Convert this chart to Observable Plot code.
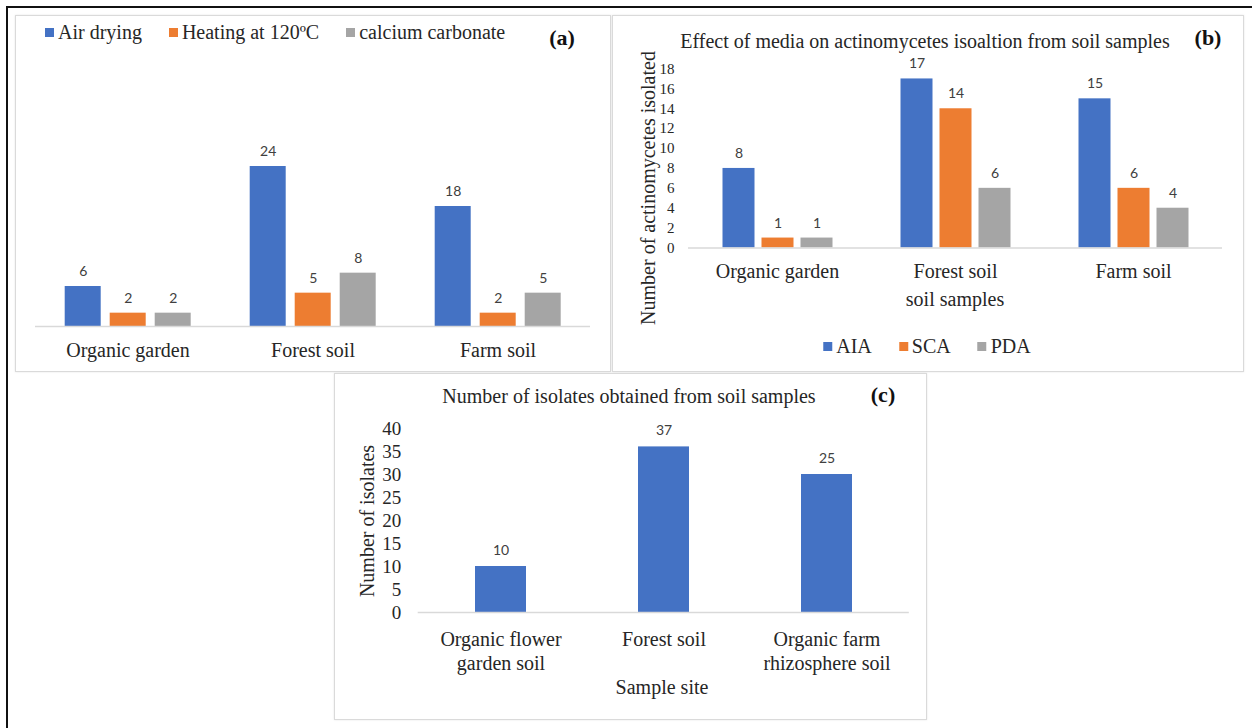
<!DOCTYPE html>
<html><head><meta charset="utf-8">
<script src="https://cdn.jsdelivr.net/npm/d3@7"></script>
<script src="https://cdn.jsdelivr.net/npm/@observablehq/plot@0.6"></script>
<style>
html,body{margin:0;padding:0;background:#fff;}
#page{position:relative;width:1252px;height:728px;overflow:hidden;font-family:"Liberation Serif","Times New Roman",serif;color:#262626;}
.line{position:absolute;background:#111;}
.box{position:absolute;box-sizing:border-box;border:1px solid #dadada;box-shadow:0 0 2px rgba(0,0,0,0.10);}
.t{position:absolute;transform:translate(-50%,-50%);white-space:nowrap;line-height:1;font-size:20px;}
.t.rot{transform:translate(-50%,-50%) rotate(-90deg);}
.t.b{font-weight:bold;font-size:22px;color:#111;}
.legend{position:absolute;display:flex;align-items:center;gap:27px;font-size:20px;line-height:1;white-space:nowrap;}
.legend .item{display:flex;align-items:center;}
.legend .sw{display:inline-block;width:9px;height:9px;margin-right:4px;}
.plot{position:absolute;}
#pb svg [aria-label^="y-axis"] text{font-size:15px;}
#pc svg [aria-label^="y-axis"] text{font-size:19px;}
</style></head>
<body><div id="page"></div>
<script>
// ---------- data ----------
const colors = ["#4472C4", "#ED7D31", "#A5A5A5"];

// Panel (a)
const catsA = ["Organic garden", "Forest soil", "Farm soil"];
const seriesA = ["Air drying", "Heating at 120ºC", "calcium carbonate"];
const airDrying = [6, 24, 18];
const heating120 = [2, 5, 2];
const calciumCarbonate = [2, 8, 5];

// Panel (b)
const catsB = ["Organic garden", "Forest soil", "Farm soil"];
const seriesB = ["AIA", "SCA", "PDA"];
const aia = [8, 17, 15];
const sca = [1, 14, 6];
const pda = [1, 6, 4];
const ticksB = [0, 2, 4, 6, 8, 10, 12, 14, 16, 18];

// Panel (c)
const catsC = ["Organic flower garden soil", "Forest soil", "Organic farm rhizosphere soil"];
const catLabelsC = ["Organic flower\ngarden soil", "Forest soil", "Organic farm\nrhizosphere soil"];
const isolateBars = [10, 36, 30];
const isolateLabels = ["10", "37", "25"];
const ticksC = [0, 5, 10, 15, 20, 25, 30, 35, 40];

// ---------- helpers ----------
const page = document.getElementById("page");
const serif = "'Liberation Serif', 'Times New Roman', serif";
const sans = "Lato, 'Open Sans', sans-serif";

function el(tag, cls, css, text) {
  const e = document.createElement(tag);
  if (cls) e.className = cls;
  Object.assign(e.style, css || {});
  if (text != null) e.textContent = text;
  page.appendChild(e);
  return e;
}
function txt(text, x, y, cls = "", css = {}) {
  return el("div", "t " + cls, Object.assign({left: x + "px", top: y + "px"}, css), text);
}
function legend(series, left, top, center) {
  const d = el("div", "legend", {left: left + "px", top: top + "px", height: "20px",
    transform: center ? "translate(-50%,0)" : "none"});
  series.forEach((s, i) => {
    const it = document.createElement("span"); it.className = "item";
    const sw = document.createElement("span"); sw.className = "sw"; sw.style.background = colors[i];
    const lb = document.createElement("span"); lb.textContent = s;
    it.appendChild(sw); it.appendChild(lb); d.appendChild(it);
  });
}
function makeRows(cats, series, arrs) {
  return cats.flatMap((c, i) => series.map((s, j) => ({cat: c, series: s, value: arrs[j][i], label: String(arrs[j][i])})));
}
function mount(id, svg, left, top) {
  const d = el("div", "plot", {left: left + "px", top: top + "px"});
  d.id = id;
  d.appendChild(svg);
}

// ---------- frame and panel boxes ----------
el("div", "line", {left: "6px", top: "6px", width: "1246px", height: "2px"});
el("div", "line", {left: "6px", top: "6px", width: "2px", height: "722px"});
el("div", "box", {left: "15px", top: "15px", width: "596px", height: "357px"});
el("div", "box", {left: "612px", top: "15px", width: "632px", height: "357px"});
el("div", "box", {left: "334px", top: "373px", width: "593px", height: "347px"});

// ---------- panel (a) ----------
const rowsA = makeRows(catsA, seriesA, [airDrying, heating120, calciumCarbonate]);
const plotA = Plot.plot({
  width: 595, height: 356,
  marginLeft: 19.3, marginRight: 19.2, marginTop: 111, marginBottom: 45,
  style: {fontFamily: serif, fontSize: "20px", color: "#262626", background: "transparent", overflow: "visible"},
  facet: {data: rowsA, x: "cat"},
  fx: {domain: catsA, padding: 0, axis: "bottom", tickSize: 0, tickPadding: 16, label: null},
  x: {domain: seriesA, paddingInner: 0.2, paddingOuter: 0.616, axis: null},
  y: {domain: [0, 30], axis: null},
  color: {domain: seriesA, range: colors},
  marks: [
    Plot.barY(rowsA, {x: "series", y: "value", fill: "series"}),
    Plot.ruleY([0], {stroke: "#d9d9d9", strokeWidth: 1.5}),
    Plot.text(rowsA, {x: "series", y: "value", text: "label", dy: -15, fill: "#404040", fontSize: 14, fontFamily: sans})
  ]
});
mount("pa", plotA, 15, 15);
legend(seriesA, 45, 22, false);
txt("(a)", 562, 38, "b");

// ---------- panel (b) ----------
const rowsB = makeRows(catsB, seriesB, [aia, sca, pda]);
const plotB = Plot.plot({
  width: 631, height: 356,
  marginLeft: 74.5, marginRight: 20, marginTop: 53.5, marginBottom: 123.5,
  style: {fontFamily: serif, fontSize: "20px", color: "#262626", background: "transparent", overflow: "visible"},
  facet: {data: rowsB, x: "cat"},
  fx: {domain: catsB, padding: 0, axis: "bottom", tickSize: 0, tickPadding: 16, label: null},
  x: {domain: seriesB, paddingInner: 0.18, paddingOuter: 0.855, axis: null},
  y: {domain: [0, 18], ticks: ticksB, tickSize: 0, tickPadding: 14, label: null},
  color: {domain: seriesB, range: colors},
  marks: [
    Plot.barY(rowsB, {x: "series", y: "value", fill: "series"}),
    Plot.ruleY([0], {stroke: "#d9d9d9", strokeWidth: 1.5}),
    Plot.text(rowsB, {x: "series", y: "value", text: "label", dy: -15, fill: "#404040", fontSize: 14, fontFamily: sans})
  ]
});
mount("pb", plotB, 612, 15);
txt("Effect of media on actinomycetes isoaltion from soil samples", 925, 41);
txt("(b)", 1208, 38, "b");
txt("Number of actinomycetes isolated", 648, 188, "rot");
txt("soil samples", 955, 299);
legend(seriesB, 927, 336, true);

// ---------- panel (c) ----------
const rowsC = catsC.map((c, i) => ({cat: c, value: isolateBars[i], label: isolateLabels[i], tick: catLabelsC[i]}));
const plotC = Plot.plot({
  width: 592, height: 346,
  marginLeft: 83.7, marginRight: 17.2, marginTop: 55, marginBottom: 107,
  style: {fontFamily: serif, fontSize: "20px", color: "#262626", background: "transparent", overflow: "visible"},
  x: {domain: catsC, paddingInner: 0.69, paddingOuter: 0.345, axis: null},
  y: {domain: [0, 40], ticks: ticksC, tickSize: 0, tickPadding: 17, label: null},
  marks: [
    Plot.barY(rowsC, {x: "cat", y: "value", fill: colors[0]}),
    Plot.ruleY([0], {stroke: "#d9d9d9", strokeWidth: 1.5}),
    Plot.text(rowsC, {x: "cat", y: "value", text: "label", dy: -16, fill: "#404040", fontSize: 14, fontFamily: sans}),
    Plot.text(rowsC, {x: "cat", text: "tick", frameAnchor: "bottom", lineAnchor: "top", dy: 16, fontSize: 20, lineHeight: 1.2, fill: "#262626", fontFamily: serif})
  ]
});
mount("pc", plotC, 334, 373);
txt("Number of isolates obtained from soil samples", 629, 396);
txt("(c)", 883, 395, "b");
txt("Number of isolates", 367, 521, "rot");
txt("Sample site", 662, 687);
</script></body></html>
